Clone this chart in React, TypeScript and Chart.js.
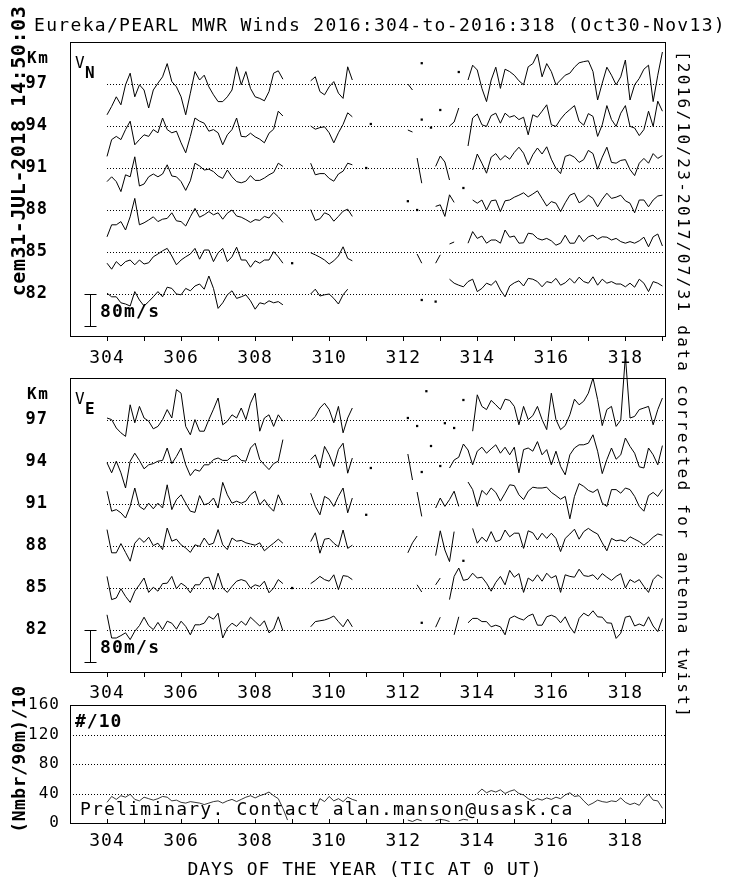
import React, { useEffect, useRef } from 'react';
import { Chart, registerables } from 'chart.js';

Chart.register(...registerables);

const _ = null;

// ---- time grid (3-hourly samples, day-of-year) ----
const FIRST_DAY = 304;
const SAMPLES_PER_DAY = 8;
const N_SAMPLES = 121;
const DAYS: number[] = Array.from({ length: N_SAMPLES }, (__, i) => FIRST_DAY + i / SAMPLES_PER_DAY);

const HEIGHTS = [82, 85, 88, 91, 94, 97];
const DAY_TICKS = [304, 305, 306, 307, 308, 309, 310, 311, 312, 313, 314, 315, 316, 317, 318, 319];
const COUNT_TICKS = [0, 40, 80, 120, 160];
const COUNT_GRID = [40, 80, 120];
const MS_PER_KM = 35; // wind offset scale: 35 m/s per km of height axis
const SCALE_BAR_MS = 80;

// ---- VN winds (m/s) ----
const VN_97 = [
  -77, -56, -32, -52, -2, 27, -32, -2,
  -15, -60, -15, 2, 18, 51, 6, -7,
  -32, -77, -23, 31, 10, 22, -7, -27,
  -44, -44, -32, -15, 43, -2, 31, -11,
  -32, -36, -42, -19, 27, 33, 12, _,
  _, _, _, _, 8, 18, -19, -27,
  -7, 6, -23, -36, 43, 10, _, _,
  _, _, _, _, _, _, _, _,
  _, 0, -15, _, 52, _, _, _,
  _, _, _, _, 30, _, 10, 47,
  35, -11, -44, 10, 42, -11, 37, 31,
  22, 8, -2, 43, 51, 75, 18, 51,
  31, -2, 10, 22, 27, 42, 53, 56,
  58, 31, -40, 2, 42, 22, -2, 18,
  60, -40, -2, 14, 37, 47, -44, 22,
  80,
];
const VN_94 = [
  -76, -34, -26, -34, -9, 12, -47, -34,
  -22, -26, -9, -17, 20, -9, -17, -13,
  -42, -67, -26, 20, 12, 7, -13, -9,
  -17, -47, -22, -9, 20, -26, -27, -18,
  -27, -33, -42, -18, -8, 37, 25, _,
  _, _, _, _, 0, -8, -4, -2,
  -17, -42, -17, 4, 33, 23, _, _,
  _, 5, _, _, _, _, _, _,
  _, -10, -15, _, 16, _, -4, _,
  40, _, 0, 10, 45, _, -50, 20,
  30, 3, -1, 26, 32, 7, 32, 22,
  26, 16, 22, -22, 28, 22, 37, 53,
  3, -1, 17, 31, 41, 51, 12, 2,
  31, 24, -26, 3, 51, 16, -1, 32,
  51, -1, -5, -24, -9, 37, -1, 62,
  37,
];
const VN_91 = [
  -34, -22, -34, -59, -17, -22, 28, -45,
  -40, -22, -15, -22, -15, 8, -20, -22,
  -34, -56, -32, 12, 5, -5, -3, -9,
  -20, -26, -5, -22, -34, -37, -33, -19,
  -31, -31, -25, -17, -11, 12, 4, _,
  _, _, _, _, 12, -17, -14, -14,
  -26, -33, -15, -8, 12, 8, _, _,
  0, _, _, _, _, _, _, _,
  _, _, _, 25, -38, _, _, 4,
  30, 15, -30, _, _, _, _, -5,
  35, 12, -13, 27, 36, 20, 31, 22,
  39, 52, 37, 8, 33, 50, 35, 53,
  22, -1, -14, 29, 33, 27, 14, 21,
  44, 36, -3, 27, 52, 14, 12, 19,
  21, -4, -19, 12, 24, 12, 36, 24,
  31,
];
const VN_88 = [
  -67, -37, -37, -29, -50, -17, 29, -37,
  -32, -25, -17, -29, -23, -21, -7, -27,
  -29, -40, -17, 4, -18, -12, -4, -12,
  -7, -23, -8, 0, -15, -18, -24, -31,
  -24, -26, -16, -20, -6, -17, -31, _,
  _, _, _, _, 1, -26, -22, -7,
  -12, -28, -16, -3, 2, -16, _, _,
  _, _, _, _, _, _, _, _,
  _, 22, _, 0, _, _, _, 9,
  13, -16, 38, 19, _, 55, _, 25,
  17, 25, 0, 23, 25, -4, 23, 25,
  32, 37, 43, 33, 40, 48, 29, 10,
  21, 17, -4, 18, 37, 42, 18, 25,
  37, 29, 8, 27, 42, 29, 32, 37,
  23, 17, -7, 25, 25, 8, 25, 35,
  37,
];
const VN_85 = [
  -28, -43, -24, -35, -24, -20, -32, -20,
  -30, -27, -12, -5, 3, 9, -10, -32,
  -20, -12, -5, 9, -18, 5, 5, -24,
  -2, 9, -24, -12, 12, -20, -20, -38,
  -22, -28, -20, -20, 1, -12, -28, _,
  -28, _, _, _, -2, -7, -13, -20,
  -30, -22, -10, 13, -16, -22, _, _,
  _, _, _, _, _, _, _, _,
  _, _, _, -5, -28, _, _, -28,
  -7, _, 20, 25, _, _, 22, 51,
  34, 40, 22, 30, 30, 22, 55, 37,
  40, 22, 23, 47, 45, 34, 30, 34,
  28, 17, 22, 42, 22, 22, 42, 26,
  38, 42, 32, 38, 37, 30, 34, 26,
  22, 26, 22, 28, 37, 13, 38, 45,
  15,
];
const VN_82 = [
  2, -7, -7, -22, -25, -30, 6, -15,
  -30, -19, -7, 6, -7, 17, 14, 0,
  -2, 14, 8, 20, 25, 12, 45, 14,
  -36, -22, -2, 8, -11, -7, -2, -17,
  -38, -22, -25, -17, -22, -19, -27, _,
  _, _, _, _, 0, 12, -5, -2,
  0, -11, -25, -2, 12, _, _, _,
  _, _, _, _, _, _, _, _,
  _, _, _, _, -15, _, _, -19,
  _, _, 37, 27, 22, 18, 31, 37,
  6, 14, 27, 22, 33, 10, -7, 20,
  28, 33, 20, 39, 37, 31, 18, 31,
  28, 39, 22, 28, 39, 27, 42, 31,
  27, 43, 22, 37, 27, 31, 25, 25,
  18, 27, 17, 37, 27, 6, 31, 27,
  20,
];

// ---- VE winds (m/s) ----
const VE_97 = [
  5, 1, -20, -32, -41, 38, -7, 34,
  5, -3, -22, -16, 1, 26, 5, 76,
  67, -16, -37, 1, -28, -28, 1, 27,
  55, -12, -3, 13, 5, 30, 1, 42,
  67, -28, 5, 13, -16, 13, -3, _,
  _, _, _, _, -3, 9, 30, 42,
  26, -7, 34, -32, 5, 30, _, _,
  _, _, _, _, _, _, _, _,
  _, 5, _, -15, _, 72, _, _,
  _, -8, _, -20, _, 50, _, -28,
  63, 34, 26, 49, 38, 26, 52, 49,
  34, -12, 34, 1, 11, 34, 1, -24,
  67, 1, -24, -14, 13, 52, 38, 47,
  67, 105, 51, -14, 26, 34, -16, 0,
  160, 5, 9, 26, 30, 34, -12, 26,
  55,
];
const VE_94 = [
  -2, -27, 2, -27, -65, 2, 22, 4,
  -17, -7, -4, 2, 4, 35, -4, 14,
  35, -7, -34, -19, -23, -7, -7, 6,
  10, 4, 4, 14, 16, 4, 2, 35,
  47, 6, -7, -19, -4, 2, 56, _,
  _, _, _, _, 6, 18, -15, 39,
  18, -11, 31, 47, -28, 10, _, _,
  _, -15, _, _, _, _, _, _,
  _, 20, -45, _, -25, _, 40, _,
  -10, _, -15, 5, 12, 45, 30, -7,
  27, 37, 22, 33, 43, 22, 37, 18,
  37, -27, 31, 35, 27, 51, 18, 31,
  -7, 27, -11, -32, 18, 35, 43, 43,
  47, 68, 27, -29, 6, 35, 7, 18,
  60, 39, 22, -12, -15, 35, 18, -7,
  41,
];
const VE_91 = [
  32, -18, -14, -22, -35, -6, 40, -6,
  -14, 2, -12, 2, -10, 48, -14, 11,
  23, 2, -18, -21, 21, -2, 2, 15,
  -10, 54, 23, 2, 7, 2, 7, 23,
  32, -2, 11, -6, -18, 23, -2, _,
  _, _, _, _, 27, -6, -27, 19,
  12, -6, 19, 40, -22, 15, _, _,
  -27, _, _, _, _, _, _, _,
  _, _, _, 30, -31, _, _, -10,
  15, -6, 11, 32, -6, _, 55, 36,
  -6, 34, 23, 40, 29, 7, 27, 48,
  46, 23, 11, 32, 42, 40, 40, 42,
  29, 21, 12, 19, -37, 19, 51, 44,
  34, 29, 37, 2, -6, 36, 36, 27,
  40, 36, 19, -6, -18, 21, 29, 19,
  36,
];
const VE_88 = [
  41, -17, -17, 6, -16, -38, 7, 20,
  9, 22, 1, 7, -9, 45, 12, 17,
  3, -5, -16, 3, -1, 20, 3, 7,
  41, 3, -9, 20, 12, 14, 8, 5,
  2, 8, -12, -2, 7, 17, 7, _,
  _, _, _, _, 11, 33, -18, 17,
  19, 7, -2, 40, -6, 2, _, _,
  _, _, _, _, _, _, _, _,
  _, -17, 8, 25, _, _, _, -24,
  38, -10, -39, 36, _, -37, _, 44,
  7, 22, 11, 36, 11, 15, 40, 23,
  32, 32, -6, 38, 33, 15, 32, 19,
  32, 19, -14, 19, 30, 42, 17, 36,
  44, 36, 30, 8, -12, 19, 13, 15,
  11, 23, 17, 11, 2, 11, 22, 30,
  27,
];
const VE_85 = [
  29, -29, -25, -2, -21, -36, -8, 8,
  25, -11, 2, -8, 11, 12, 29, -2,
  12, 4, -12, 8, 8, 25, 27, -4,
  37, 0, -11, 4, 17, 21, 17, 0,
  8, 4, 17, -12, 0, 21, 11, _,
  0, _, _, _, 11, 19, 29, 21,
  17, 33, -4, 31, 29, 21, _, _,
  _, _, _, _, _, _, _, _,
  _, _, _, 8, -10, _, _, 8,
  25, _, -29, 29, 50, 19, 22, 37,
  25, 27, 12, -8, 14, 29, 8, 44,
  27, 36, -11, 25, 17, 33, 17, 37,
  25, 31, -11, 33, 29, 27, 47, 31,
  29, 33, 21, 36, 27, 19, 29, 36,
  0, 21, 14, 21, 4, -11, 21, 33,
  25,
];
const VE_82 = [
  38, -20, -20, -14, -7, -24, -3, 11,
  32, 11, 1, 19, 1, 22, 17, 2,
  22, 9, -12, 13, 13, 17, 34, 27,
  42, -20, 5, 17, 9, 22, 12, 32,
  21, 10, 23, -7, 2, 33, -2, _,
  _, _, _, _, 8, 21, 23, 25,
  29, 35, 21, 8, 27, 8, _, _,
  _, _, _, _, _, _, _, _,
  _, _, _, _, 18, _, _, 7,
  32, _, _, -12, 33, _, 18, 29,
  29, 21, 21, 8, 12, 8, -12, 29,
  35, 29, 25, 35, 40, 12, 12, 33,
  37, 32, 18, 33, 8, -8, 29, 42,
  35, 48, 33, 32, 18, 17, -21, -8,
  32, 35, 10, 15, 10, 33, 10, -4,
  29,
];

// ---- number of echoes per 90 m (/10) ----
const COUNT = [
  28, 36, 32, 37, 35, 39, 32, 30,
  35, 33, 31, 33, 36, 35, 30, 31,
  28, 27, 29, 28, 27, 25, 27, 29,
  30, 27, 30, 32, 29, 32, 35, 37,
  34, 37, 39, 42, 37, 33, 20, 4,
  _, _, _, _, _, 18, 33, 29,
  36, 30, 33, 29, 35, 32, 30, _,
  _, _, _, _, _, _, _, _,
  _, 4, 2, 5, 3, _, _, 3,
  5, 4, 2, _, 3, 5, 4, _,
  40, 46, 41, 44, 42, 45, 40, 43,
  45, 40, 38, 33, 30, 33, 31, 34,
  32, 35, 33, 38, 41, 36, 37, 30,
  24, 27, 31, 29, 28, 30, 29, 34,
  28, 25, 27, 24, 33, 39, 31, 30,
  20,
];

const VN_SERIES = [VN_82, VN_85, VN_88, VN_91, VN_94, VN_97];
const VE_SERIES = [VE_82, VE_85, VE_88, VE_91, VE_94, VE_97];

const TITLE = 'Eureka/PEARL MWR Winds 2016:304-to-2016:318 (Oct30-Nov13)';
const STAMP = 'cem31-JUL-2018 14:50:03';
const SIDE_NOTE = '[2016/10/23-2017/07/31 data corrected for antenna twist]';
const X_TITLE = 'DAYS OF THE YEAR (TIC AT 0 UT)';
const COUNT_TITLE = '(Nmbr/90m)/10';
const COUNT_LABEL = '#/10';
const CONTACT = 'Preliminary. Contact alan.manson@usask.ca';

const FONT = "'DejaVu Sans Mono', 'Liberation Mono', monospace";
const W = 736;
const H = 877;

function drawText(ctx: any, s: string, x: number, y: number, font: string, align = 'left', spacing = 0, rot = 0) {
  ctx.save();
  ctx.translate(x, y);
  if (rot) ctx.rotate(rot);
  ctx.font = font;
  ctx.fillStyle = '#000';
  ctx.textAlign = align;
  ctx.textBaseline = 'alphabetic';
  ctx.letterSpacing = spacing + 'px';
  ctx.fillText(s, 0, 0);
  ctx.restore();
}

function drawFrame(chart: any) {
  const { ctx, chartArea } = chart;
  const l = Math.round(chartArea.left) + 0.5;
  const t = Math.round(chartArea.top) + 0.5;
  const r = Math.round(chartArea.right) + 0.5;
  const b = Math.round(chartArea.bottom) + 0.5;
  ctx.save();
  ctx.setLineDash([]);
  ctx.strokeStyle = '#000';
  ctx.lineWidth = 1;
  ctx.strokeRect(l, t, r - l, b - t);
  ctx.restore();
}

function dotted(ctx: any, x1: number, x2: number, y: number) {
  const yy = Math.round(y) + 0.5;
  ctx.save();
  ctx.strokeStyle = '#000';
  ctx.lineWidth = 1;
  ctx.setLineDash([1, 2]);
  ctx.beginPath();
  ctx.moveTo(x1, yy);
  ctx.lineTo(x2, yy);
  ctx.stroke();
  ctx.restore();
}

const isolatedRadius = (c: any) => {
  const d = c.dataset.data;
  const i = c.dataIndex;
  const cur = d[i];
  if (!cur || cur.y == null) return 0;
  const prev = d[i - 1];
  const next = d[i + 1];
  const noPrev = !prev || prev.y == null;
  const noNext = !next || next.y == null;
  return noPrev && noNext ? 1.6 : 0;
};

function lineDataset(points: { x: number; y: number | null }[]) {
  return {
    type: 'line',
    data: points,
    borderColor: '#000',
    borderWidth: 1,
    tension: 0,
    spanGaps: false,
    clip: false,
    pointRadius: isolatedRadius,
    pointStyle: 'rect',
    pointBackgroundColor: '#000',
    pointBorderWidth: 0,
    pointHoverRadius: 0,
  };
}

function xScale(labelPadding: number, withLabels: boolean, outerTicks: boolean, height: number) {
  return {
    type: 'linear',
    min: 303,
    max: 319.07,
    afterBuildTicks: (s: any) => {
      s.ticks = DAY_TICKS.map((v) => ({ value: v }));
    },
    afterFit: (s: any) => {
      s.height = height;
    },
    grid: {
      display: outerTicks,
      drawOnChartArea: false,
      drawTicks: outerTicks,
      tickLength: 5,
      tickColor: '#000',
      tickWidth: 1,
      color: '#000',
    },
    border: { display: false },
    ticks: {
      autoSkip: false,
      maxRotation: 0,
      minRotation: 0,
      padding: labelPadding,
      color: '#000',
      font: { family: FONT, size: 18, lineHeight: 1 },
      callback: (v: any) => (withLabels && Number(v) % 2 === 0 && Number(v) <= 318 ? String(v) : ''),
    },
  };
}

function windConfig(series: (number | null)[][], panel: 'N' | 'E', top: number, bottom: number, labelPad: number, global: boolean) {
  const datasets = series.map((s, k) =>
    lineDataset(DAYS.map((d, i) => ({ x: d, y: s[i] == null ? null : HEIGHTS[k] + (s[i] as number) / MS_PER_KM })))
  );
  const plugin = {
    id: 'wind' + panel,
    beforeDraw: (chart: any) => {
      chart.ctx.letterSpacing = '1px';
    },
    beforeDatasetsDraw: (chart: any) => {
      const { ctx, chartArea, scales } = chart;
      const x0 = scales.x.getPixelForValue(DAYS[0]);
      HEIGHTS.forEach((h) => dotted(ctx, x0, chartArea.right, scales.y.getPixelForValue(h)));
    },
    afterDraw: (chart: any) => {
      const { ctx, chartArea, scales } = chart;
      drawFrame(chart);
      const ys = scales.y;
      // Km label
      drawText(ctx, 'Km', 27, chartArea.top + 21, `bold 16px ${FONT}`, 'left', 1.5);
      // V_N / V_E
      drawText(ctx, 'V', chartArea.left + 5, chartArea.top + 26, `16px ${FONT}`, 'left', 0);
      drawText(ctx, panel, chartArea.left + 15, chartArea.top + 36, `bold 16px ${FONT}`, 'left', 0);
      // scale bar
      const bx = Math.round(chartArea.left + 20) + 0.5;
      const yTop = Math.round(ys.getPixelForValue(HEIGHTS[0])) + 0.5;
      const yBot = Math.round(ys.getPixelForValue(HEIGHTS[0] - SCALE_BAR_MS / MS_PER_KM)) + 0.5;
      ctx.save();
      ctx.strokeStyle = '#000';
      ctx.lineWidth = 1;
      ctx.setLineDash([]);
      ctx.beginPath();
      ctx.moveTo(bx, yTop);
      ctx.lineTo(bx, yBot);
      ctx.moveTo(bx - 6, yTop);
      ctx.lineTo(bx + 6, yTop);
      ctx.moveTo(bx - 6, yBot);
      ctx.lineTo(bx + 6, yBot);
      ctx.stroke();
      ctx.restore();
      drawText(ctx, SCALE_BAR_MS + 'm/s', chartArea.left + 30, yTop + 22, `bold 18px ${FONT}`, 'left', 1.2);
      if (global) {
        drawText(ctx, TITLE, 380, 31, `18px ${FONT}`, 'center', 1.3);
        drawText(ctx, STAMP, 25, 151, `bold 20px ${FONT}`, 'center', 0.6, -Math.PI / 2);
        drawText(ctx, SIDE_NOTE, 678, 385, `16px ${FONT}`, 'center', 2.3, Math.PI / 2);
      }
    },
  };
  return {
    type: 'line',
    data: { datasets },
    options: {
      animation: false,
      responsive: false,
      maintainAspectRatio: false,
      events: [],
      layout: { padding: { left: 10, right: W - 665, top, bottom: H - bottom - 40 } },
      plugins: { legend: { display: false }, tooltip: { enabled: false }, title: { display: false } },
      scales: {
        x: xScale(labelPad, true, true, 40),
        y: {
          type: 'linear',
          min: 79,
          max: 100,
          afterBuildTicks: (s: any) => {
            s.ticks = HEIGHTS.map((v) => ({ value: v }));
          },
          afterFit: (s: any) => {
            s.width = 60;
          },
          grid: { display: false, drawTicks: false },
          border: { display: false },
          ticks: { padding: 22, color: '#000', font: { family: FONT, size: 17, weight: 'bold' } },
        },
      },
    },
    plugins: [plugin],
  };
}

function countConfig() {
  const top = 705;
  const bottom = 823;
  const datasets = [lineDataset(DAYS.map((d, i) => ({ x: d, y: COUNT[i] })))];
  (datasets[0] as any).borderWidth = 0.8;
  const plugin = {
    id: 'count',
    beforeDraw: (chart: any) => {
      chart.ctx.letterSpacing = '1px';
    },
    beforeDatasetsDraw: (chart: any) => {
      const { ctx, chartArea, scales } = chart;
      COUNT_GRID.forEach((v) => dotted(ctx, chartArea.left, chartArea.right, scales.y.getPixelForValue(v)));
      // inward day ticks
      ctx.save();
      ctx.strokeStyle = '#000';
      ctx.lineWidth = 1;
      ctx.beginPath();
      DAY_TICKS.forEach((d) => {
        const x = Math.round(scales.x.getPixelForValue(d)) + 0.5;
        ctx.moveTo(x, chartArea.bottom);
        ctx.lineTo(x, chartArea.bottom - 4);
      });
      ctx.stroke();
      ctx.restore();
    },
    afterDraw: (chart: any) => {
      const { ctx, chartArea } = chart;
      drawFrame(chart);
      drawText(ctx, COUNT_LABEL, chartArea.left + 5, chartArea.top + 22, `bold 18px ${FONT}`, 'left', 1);
      drawText(ctx, CONTACT, chartArea.left + 10, chartArea.bottom - 8, `18px ${FONT}`, 'left', 1.2);
      drawText(ctx, COUNT_TITLE, 25, 759, `bold 18px ${FONT}`, 'center', 0.5, -Math.PI / 2);
      drawText(ctx, X_TITLE, 365, 875, `18px ${FONT}`, 'center', 1);
    },
  };
  return {
    type: 'line',
    data: { datasets },
    options: {
      animation: false,
      responsive: false,
      maintainAspectRatio: false,
      events: [],
      layout: { padding: { left: 10, right: W - 665, top, bottom: H - bottom - 30 } },
      plugins: { legend: { display: false }, tooltip: { enabled: false }, title: { display: false } },
      scales: {
        x: xScale(9.5, true, false, 30),
        y: {
          type: 'linear',
          min: 0,
          max: 160,
          afterBuildTicks: (s: any) => {
            s.ticks = COUNT_TICKS.map((v) => ({ value: v }));
          },
          afterFit: (s: any) => {
            s.width = 60;
          },
          grid: { display: false, drawTicks: false },
          border: { display: false },
          ticks: { padding: 10, color: '#000', font: { family: FONT, size: 16 } },
        },
      },
    },
    plugins: [plugin],
  };
}

export default function App() {
  const c1 = useRef<HTMLCanvasElement>(null);
  const c2 = useRef<HTMLCanvasElement>(null);
  const c3 = useRef<HTMLCanvasElement>(null);

  useEffect(() => {
    document.body.style.margin = '0';
    const charts: Chart[] = [];
    if (c1.current) charts.push(new Chart(c1.current, windConfig(VN_SERIES, 'N', 42, 336, 8.5, true) as any));
    if (c2.current) charts.push(new Chart(c2.current, windConfig(VE_SERIES, 'E', 378, 672, 7.3, false) as any));
    if (c3.current) charts.push(new Chart(c3.current, countConfig() as any));
    return () => charts.forEach((c) => c.destroy());
  }, []);

  const style: React.CSSProperties = { position: 'absolute', left: 0, top: 0, width: W, height: H };
  return (
    <div style={{ position: 'fixed', left: 0, top: 0, width: W, height: H, background: '#fff', overflow: 'hidden' }}>
      <canvas ref={c1} width={W} height={H} style={style} />
      <canvas ref={c2} width={W} height={H} style={style} />
      <canvas ref={c3} width={W} height={H} style={style} />
    </div>
  );
}
